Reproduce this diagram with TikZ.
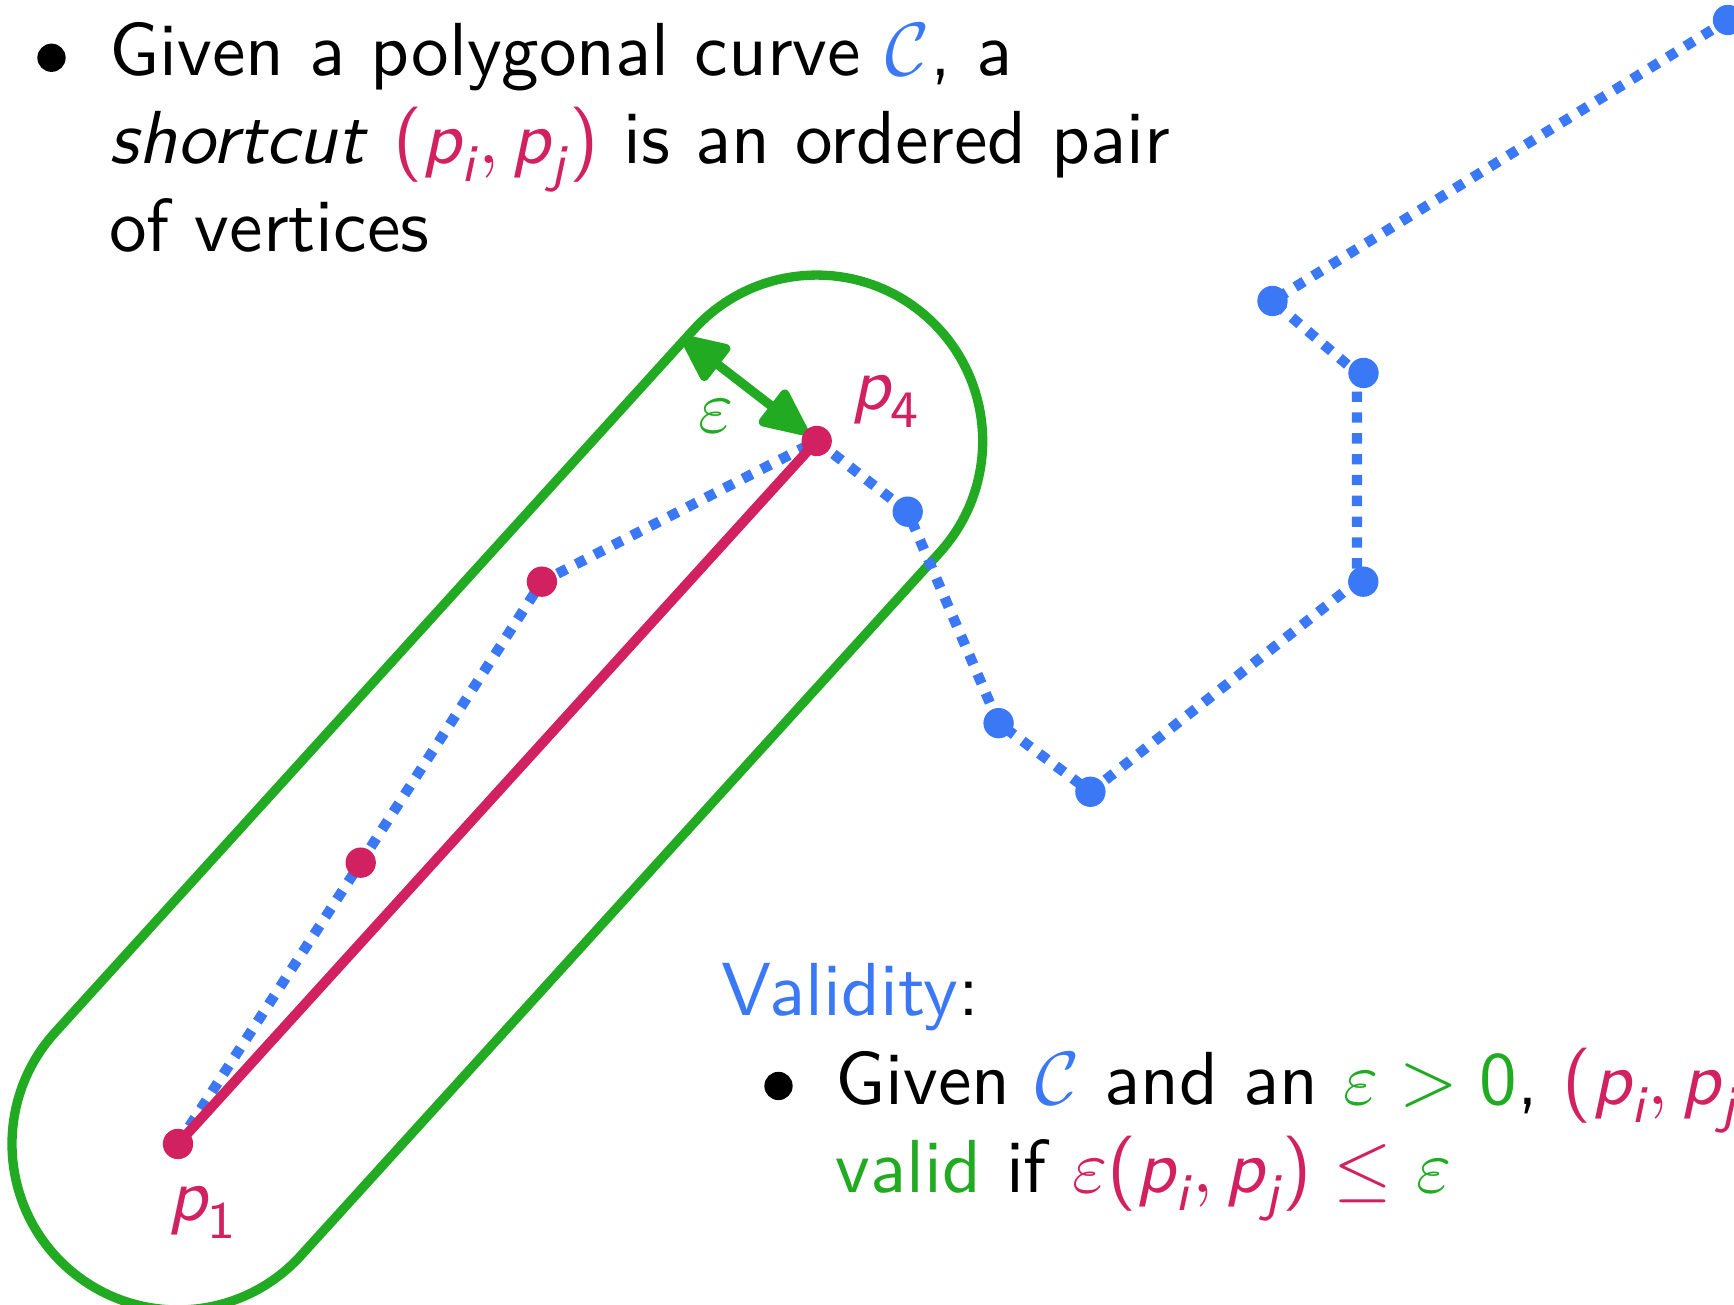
\documentclass[tikz,border=0pt]{standalone}
\usepackage{amsmath}
\usetikzlibrary{arrows.meta}
\definecolor{cblue}{RGB}{59,120,246}
\definecolor{cred}{RGB}{210,33,96}
\definecolor{cgreen}{RGB}{33,170,34}
\newcommand\sv[1]{\textsf{\itshape #1}}
\newcommand\su[1]{\textsf{#1}}
\begin{document}
\begin{tikzpicture}[x=0.145pt,y=0.145pt,
  font=\sffamily\fontsize{10.9}{12.76}\selectfont,
  txt/.style={inner sep=0pt, anchor=base west},
  dotnode/.style={circle, inner sep=0pt, minimum size=4.4pt, fill=#1},
  bulletnode/.style={circle, inner sep=0pt, minimum size=4.1pt, fill=black},
  curveline/.style={cblue, line width=1.5pt, dash pattern=on 1.5pt off 1.52pt},
  shortline/.style={cred, line width=1.45pt},
  hull/.style={cgreen, line width=1.35pt},
  epsarrow/.style={cgreen, line width=1.35pt, {Triangle[length=7.8pt,width=6.8pt,round]}-{Triangle[length=7.8pt,width=6.8pt,round]}}]
\useasboundingbox (0,0) rectangle (1734,1305);
% vertices
\coordinate (p1) at (178,161);
\coordinate (r2) at (360.7,442.3);
\coordinate (r3) at (541.9,723.3);
\coordinate (p4) at (816.7,864);
\coordinate (b1) at (907.7,793.3);
\coordinate (b2) at (998.6,581.8);
\coordinate (b3) at (1090.4,513.2);
\coordinate (b4) at (1357,723.3);
\coordinate (b5) at (1357,932);
\coordinate (b6) at (1272.5,1004);
\coordinate (b7) at (1728,1285);
\coordinate (etip) at (681.7,968.3);
% hull (stadium)
\begin{scope}[shift={(p1)}, rotate=47.74]
  \draw[hull] (0,-166) -- (949.8,-166) arc[start angle=-90, end angle=90, radius=166]
    -- (0,166) arc[start angle=90, end angle=270, radius=166] -- cycle;
\end{scope}
% curve
\draw[curveline] (p1) -- (r2) -- (r3) -- (p4) -- (b1) -- (b2) -- (b3) -- (b4) -- (b5) -- (b6) -- (b7);
% shortcut
\draw[shortline] (p1) -- (p4);
% epsilon arrow
\draw[epsarrow, shorten >=1.7pt] (etip) -- (p4);
% dots
\node[dotnode=cred] (n1) at (p1) {};
\node[dotnode=cred] (n2) at (r2) {};
\node[dotnode=cred] (n3) at (r3) {};
\node[dotnode=cred] (n4) at (p4) {};
\node[dotnode=cblue] (m1) at (b1) {};
\node[dotnode=cblue] (m2) at (b2) {};
\node[dotnode=cblue] (m3) at (b3) {};
\node[dotnode=cblue] (m4) at (1363.3,723.3) {};
\node[dotnode=cblue] (m5) at (1363.5,932) {};
\node[dotnode=cblue] (m6) at (b6) {};
\node[dotnode=cblue] (m7) at (b7) {};
% labels
\node[cgreen, inner sep=0pt] (epslabel) at (716.5,889) {$\varepsilon$};
\node[txt, cred] (p4label) at (850,895) {$\sv{p}_{\su{4}}$};
\node[txt, cred] (p1label) at (167,84) {$\sv{p}_{\su{1}}$};
% top text
\node[bulletnode] (bul1) at (51.5,1247.2) {};
\node[txt] (t1a) at (108,1229) {Given a polygonal curve {\color{cblue}$\mathcal{C}$}, a};
\node[txt] (t1b) at (108,1141) {\textit{shortcut} {\color{cred}$\su{(}\sv{p}_{\sv{i}}, \sv{p}_{\sv{j}}\su{)}$} is an ordered pair};
\node[txt] (t1c) at (108,1053) {of vertices};
% validity text
\node[txt] (valid) at (720,289) {{\color{cblue}Validity}:};
\node[bulletnode] (bul2) at (778.5,219) {};
\node[txt] (t2a) at (834,200) {Given {\color{cblue}$\mathcal{C}$} and an {\color{cgreen}$\varepsilon > \su{0}$}, {\color{cred}$\su{(}\sv{p}_{\sv{i}}, \sv{p}_{\sv{j}}$}};
\node[txt] (t2b) at (834,112) {{\color{cgreen}valid} if {\color{cred}$\varepsilon\su{(}\sv{p}_{\sv{i}}, \sv{p}_{\sv{j}}\su{)} \le$} {\color{cgreen}$\varepsilon$}};
\end{tikzpicture}
\end{document}
